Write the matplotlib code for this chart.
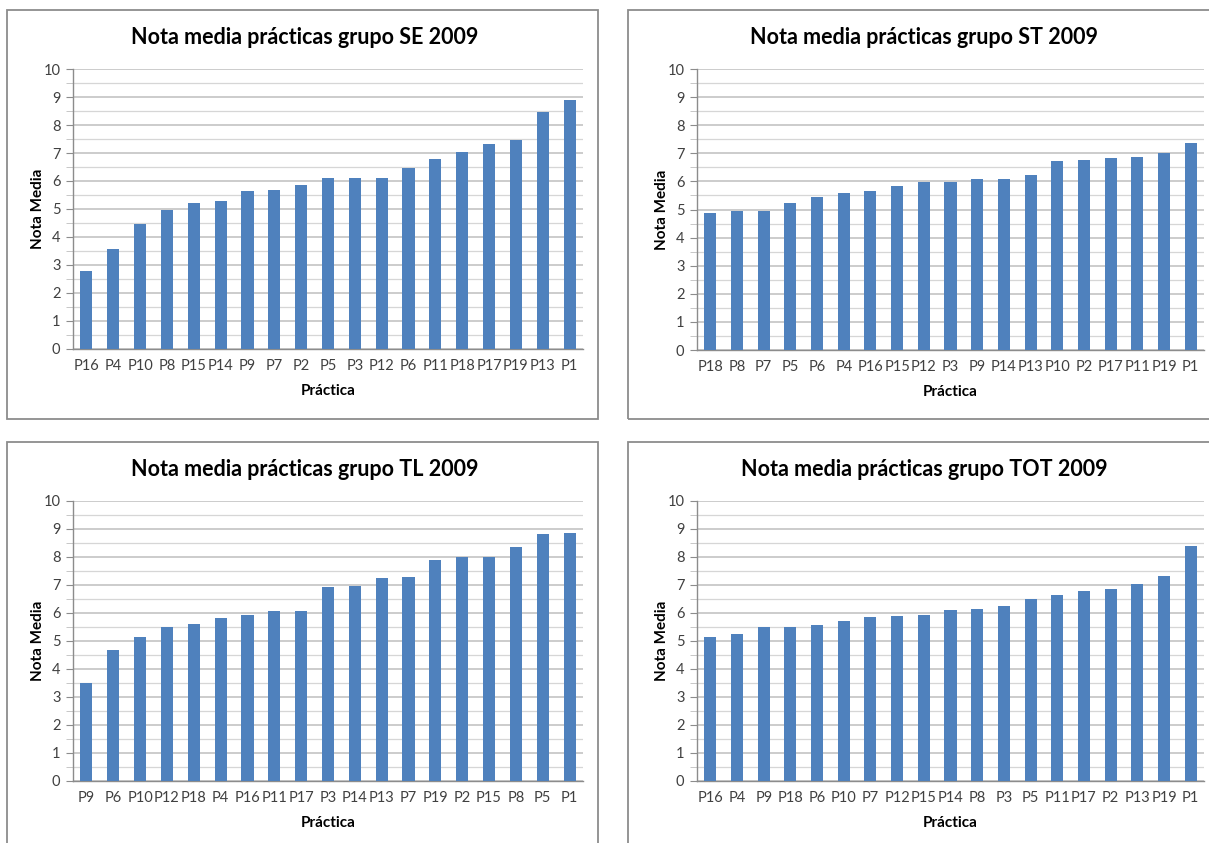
import matplotlib
matplotlib.use("Agg")
import matplotlib.pyplot as plt
from matplotlib.patches import Rectangle
from matplotlib.ticker import MultipleLocator
import numpy as np

plt.rcParams['font.family'] = ['Lato', 'DejaVu Sans']

# Average mark per lab exercise, sorted ascending, for each group
se_labels = ['P16', 'P4', 'P10', 'P8', 'P15', 'P14', 'P9', 'P7', 'P2', 'P5',
             'P3', 'P12', 'P6', 'P11', 'P18', 'P17', 'P19', 'P13', 'P1']
se_values = [2.77, 3.58, 4.48, 4.97, 5.21, 5.28, 5.64, 5.68, 5.86, 6.10,
             6.12, 6.12, 6.48, 6.80, 7.03, 7.32, 7.48, 8.48, 8.88]

st_labels = ['P18', 'P8', 'P7', 'P5', 'P6', 'P4', 'P16', 'P15', 'P12', 'P3',
             'P9', 'P14', 'P13', 'P10', 'P2', 'P17', 'P11', 'P19', 'P1']
st_values = [4.89, 4.94, 4.94, 5.24, 5.45, 5.57, 5.67, 5.84, 5.99, 5.99,
             6.07, 6.07, 6.22, 6.71, 6.76, 6.83, 6.86, 7.01, 7.36]

tl_labels = ['P9', 'P6', 'P10', 'P12', 'P18', 'P4', 'P16', 'P11', 'P17', 'P3',
             'P14', 'P13', 'P7', 'P19', 'P2', 'P15', 'P8', 'P5', 'P1']
tl_values = [3.49, 4.68, 5.14, 5.50, 5.60, 5.83, 5.93, 6.06, 6.08, 6.92,
             6.98, 7.25, 7.30, 7.90, 7.99, 7.99, 8.36, 8.82, 8.87]

tot_labels = ['P16', 'P4', 'P9', 'P18', 'P6', 'P10', 'P7', 'P12', 'P15', 'P14',
              'P8', 'P3', 'P5', 'P11', 'P17', 'P2', 'P13', 'P19', 'P1']
tot_values = [5.14, 5.25, 5.50, 5.50, 5.56, 5.70, 5.86, 5.90, 5.93, 6.11,
              6.14, 6.24, 6.50, 6.64, 6.80, 6.85, 7.02, 7.32, 8.40]

groups = ['SE', 'ST', 'TL', 'TOT']

BAR_COLOR = '#4F81BD'
GRID_COLOR = '#BEBEBE'
TEXT_COLOR = '#404040'

W, H = 1209, 843
fig = plt.figure(figsize=(W / 100, H / 100), dpi=100)
fig.patch.set_facecolor('white')


def px_box(x0, y0, x1, y1):
    """Pixel box (top-left origin) -> figure fraction [left, bottom, w, h]."""
    return [x0 / W, 1 - y1 / H, (x1 - x0) / W, (y1 - y0) / H]


# chart frames
frames = [(7, 10, 598, 419), (628, 10, 1215, 419),
          (7, 442, 598, 850), (628, 442, 1215, 850)]
for x0, y0, x1, y1 in frames:
    fig.patches.append(Rectangle((x0 / W, 1 - y1 / H), (x1 - x0) / W, (y1 - y0) / H,
                                 transform=fig.transFigure, fill=False,
                                 edgecolor='#8C8C8C', linewidth=1.3, zorder=0))

axes_boxes = [(73, 69, 583, 349), (697, 69, 1204, 350),
              (73, 501, 583, 781), (697, 501, 1204, 781)]
data = [(se_labels, se_values), (st_labels, st_values),
        (tl_labels, tl_values), (tot_labels, tot_values)]

for (x0, y0, x1, y1), frame, (labels, values), group in zip(axes_boxes, frames, data, groups):
    ax = fig.add_axes(px_box(x0, y0, x1, y1))
    x = np.arange(len(labels))
    ax.bar(x, values, width=0.45, color=BAR_COLOR, zorder=3)

    ax.set_xlim(-0.5, len(labels) - 0.5)
    ax.set_ylim(0, 10)
    ax.yaxis.set_major_locator(MultipleLocator(1))
    ax.yaxis.set_minor_locator(MultipleLocator(0.5))
    ax.grid(axis='y', which='major', color=GRID_COLOR, linewidth=1.1, zorder=0)
    ax.grid(axis='y', which='minor', color='#D6D6D6', linewidth=0.9, zorder=0)

    ax.set_xticks(x)
    ax.set_xticklabels(labels)
    ax.tick_params(axis='x', length=0, labelsize=10.5, labelcolor=TEXT_COLOR, pad=7)
    ax.tick_params(axis='y', which='major', length=5, color='#8C8C8C',
                   labelsize=10.5, labelcolor=TEXT_COLOR, pad=4)
    ax.tick_params(axis='y', which='minor', length=5, color='#BEBEBE')

    for side in ('top', 'right'):
        ax.spines[side].set_visible(False)
    for side in ('left', 'bottom'):
        ax.spines[side].set_color('#8C8C8C')
        ax.spines[side].set_linewidth(1.0)

    ax.set_ylabel('Nota Media', fontsize=11, fontweight='bold', labelpad=-1)
    ax.set_xlabel('Práctica', fontsize=11, fontweight='bold', labelpad=8)

    # title centred on the chart frame rather than on the plot area
    fx0, fy0, fx1, fy1 = frame
    fig.text((fx0 + fx1) / 2 / W + 0.002, 1 - (y0 - 31) / H,
             f'Nota media prácticas grupo {group} 2009',
             fontsize=15.5, fontweight='bold', ha='center', va='center')

fig.savefig('out.png', dpi=100)
